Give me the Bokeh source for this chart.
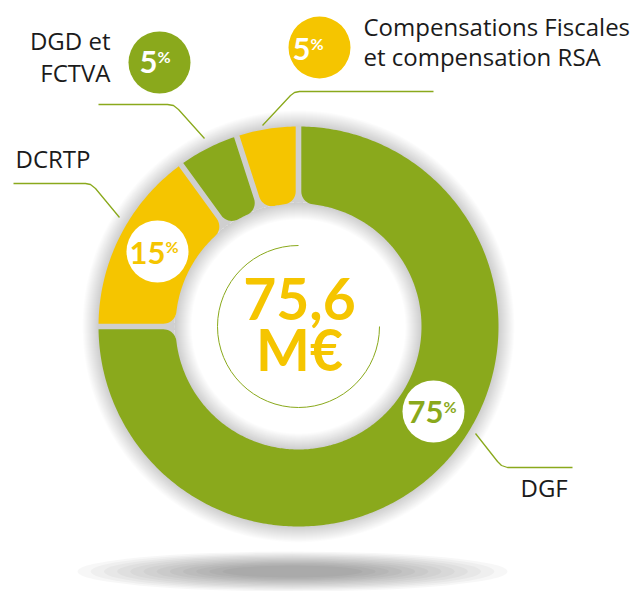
import numpy as np
from bokeh.plotting import figure
from bokeh.models import Range1d
from bokeh.core.properties import value
from bokeh.embed import file_html
from bokeh.resources import INLINE

# ---------------- data ----------------
categories = ["DGF", "DCRTP", "DGD et FCTVA", "Compensations Fiscales et compensation RSA"]
shares = [75, 15, 5, 5]            # percent
total_meur = 75.6                  # M€
seg_colors = ["#8AA91C", "#F5C500", "#8AA91C", "#F5C500"]

GREEN = "#8AA91C"
YELLOW = "#F5C500"
TEXT = "#1b1b1b"

# ---------------- layout (pixel frame -> data, 1px = 1 unit, donut center at 0,0) -------------
W, H = 643, 591
CXP, CYP = 298, 326
OFF = 0
def X(px): return px - CXP
def Y(py): return CYP - py
BASE_K = 0.35   # baseline correction (fraction of font size)
def YB(py, fs): return CYP - (py - BASE_K * fs)

RI, RO = 123, 200
GAP_HALF = 2.8
FILLET = 13

p = figure(width=W, height=H, output_backend="svg", toolbar_location=None,
           x_axis_type=None, y_axis_type=None,
           x_range=Range1d(OFF - CXP, OFF + W - CXP), y_range=Range1d(CYP - (OFF + H), CYP - OFF),
           min_border=0, outline_line_color=None, background_fill_color="white")
p.grid.visible = False

# ---------------- shadows ----------------
n_sh = 12
ew = np.linspace(430, 140, n_sh)
eh = np.linspace(40, 12, n_sh)
p.ellipse(x=[X(292)] * n_sh, y=[Y(571)] * n_sh, width=ew, height=eh,
          fill_color="black", fill_alpha=0.03, line_color=None)

glow_r = np.arange(RO + 16, RO, -1)
p.circle(x=[0] * len(glow_r), y=[0] * len(glow_r), radius=glow_r,
         fill_color="black", fill_alpha=0.012, line_color=None)
p.circle(x=[0], y=[0], radius=[RI + 1], fill_color="white", line_color=None)
inner_r = np.arange(RI - 16, RI + 1, 1)
p.annulus(x=[0] * len(inner_r), y=[0] * len(inner_r), inner_radius=inner_r,
          outer_radius=[RI + 1] * len(inner_r), fill_color="black", fill_alpha=0.011, line_color=None)

# ---------------- donut segments (rounded inner corners) ----------------
def ang(v):
    return np.arctan2(v[1], v[0])

def seg_polygon(t1, t2, ri, ro, d, rc):
    u1 = np.array([np.cos(t1), np.sin(t1)]); n1 = np.array([-np.sin(t1), np.cos(t1)])
    u2 = np.array([np.cos(t2), np.sin(t2)]); n2 = np.array([np.sin(t2), -np.cos(t2)])
    pts = []
    s = np.sqrt(ro ** 2 - d ** 2)
    P1o = d * n1 + s * u1
    P2o = d * n2 + s * u2
    a1, a2 = ang(P1o), ang(P2o)
    while a2 < a1:
        a2 += 2 * np.pi
    for a in np.linspace(a1, a2, max(8, int((a2 - a1) * 80))):
        pts.append((ro * np.cos(a), ro * np.sin(a)))
    t = np.sqrt((ri + rc) ** 2 - (d + rc) ** 2)
    c2 = (d + rc) * n2 + t * u2
    c1 = (d + rc) * n1 + t * u1
    ps, pe = ang(-n2), ang(-c2)
    dl = (pe - ps + np.pi) % (2 * np.pi) - np.pi
    for a in np.linspace(ps, ps + dl, 12):
        pts.append((c2[0] + rc * np.cos(a), c2[1] + rc * np.sin(a)))
    b2, b1 = ang(c2), ang(c1)
    while b2 < b1:
        b2 += 2 * np.pi
    for a in np.linspace(b2, b1, max(8, int((b2 - b1) * 80))):
        pts.append((ri * np.cos(a), ri * np.sin(a)))
    ps, pe = ang(-c1), ang(-n1)
    dl = (pe - ps + np.pi) % (2 * np.pi) - np.pi
    for a in np.linspace(ps, ps + dl, 12):
        pts.append((c1[0] + rc * np.cos(a), c1[1] + rc * np.sin(a)))
    xs, ys = zip(*pts)
    return list(xs), list(ys)

cum = np.concatenate([[0], np.cumsum(shares)]) / float(sum(shares))
xs_all, ys_all = [], []
for k in range(len(shares)):
    t2 = np.deg2rad(90 - 360 * cum[k])
    t1 = np.deg2rad(90 - 360 * cum[k + 1])
    xs, ys = seg_polygon(t1, t2, RI, RO, GAP_HALF, FILLET)
    xs_all.append(xs); ys_all.append(ys)
p.patches(xs=xs_all, ys=ys_all, fill_color=seg_colors, line_color=None)

p.arc(x=0, y=0, radius=81, start_angle=np.pi / 2, end_angle=2 * np.pi,
      direction="anticlock", line_color=GREEN, line_width=1)

tot_txt = f"{total_meur:.1f}".replace(".", ",")
FS_TOT = 57
p.text(x=[X(299), X(299)], y=[YB(318, FS_TOT), YB(368, FS_TOT)], text=[tot_txt, "M€"],
       text_font=value("Lato"), text_font_style="bold", text_font_size=f"{FS_TOT}px",
       text_color=YELLOW, text_align="center", text_baseline="alphabetic")

# ---------------- badges ----------------
badge_cx = [433, 157, 159, 319]
badge_cy = [411, 251, 62, 47]
badge_fill = ["white", "white", GREEN, YELLOW]
badge_txt_col = [GREEN, YELLOW, "white", "white"]
num_right = [443, 165, 157, 310]
num_base = [422, 263, 72, 59]
pct_base = [412, 252, 62, 49]
FS_NUM, FS_PCT = 31, 16
p.circle(x=[X(v) for v in badge_cx], y=[Y(v) for v in badge_cy], radius=31,
         fill_color=badge_fill, line_color=None)
p.text(x=[X(v) for v in num_right], y=[YB(v, FS_NUM) for v in num_base], text=[str(s) for s in shares],
       text_font=value("Lato"), text_font_style="bold", text_font_size=f"{FS_NUM}px",
       text_color=badge_txt_col, text_align="right", text_baseline="alphabetic")
p.text(x=[X(v) for v in num_right], y=[YB(v, FS_PCT) for v in pct_base], text=["%"] * 4,
       text_font=value("Lato"), text_font_style="bold", text_font_size=f"{FS_PCT}px",
       text_color=badge_txt_col, text_align="left", text_baseline="alphabetic")

# ---------------- leader lines ----------------
leaders = [
    [(475, 433), (497, 461), (501, 465), (507, 467), (572, 467)],
    [(119, 217), (95, 188), (90, 184), (85, 183), (13, 183)],
    [(204, 138), (178, 109), (173, 105), (167, 104), (98, 104)],
    [(262, 125), (290, 95), (294, 92), (299, 91), (433, 91)],
]
p.multi_line(xs=[[X(a) for a, b in L] for L in leaders], ys=[[Y(b) for a, b in L] for L in leaders],
             line_color=GREEN, line_width=1.3)

# ---------------- labels ----------------
lab_text = ["DGF", "DCRTP", "DGD et", "FCTVA", "Compensations Fiscales", "et compensation RSA"]
lab_x = [520, 15, 110, 110, 363, 363]
lab_y = [495, 166, 48, 80, 34, 64]
lab_align = ["left", "left", "right", "right", "left", "left"]
lab_fs = [24, 24, 24, 24, 24, 24]
p.text(x=[X(v) for v in lab_x], y=[YB(v, f) for v, f in zip(lab_y, lab_fs)], text=lab_text,
       text_font=value("Open Sans"), text_font_size=[f"{f}px" for f in lab_fs], text_color=TEXT,
       text_align=lab_align, text_baseline="alphabetic")

open("out.html", "w").write(file_html(p, INLINE))
